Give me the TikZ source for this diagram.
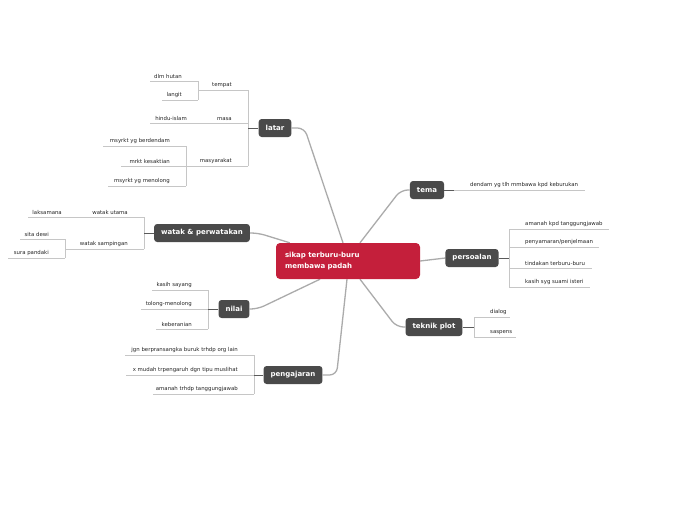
\documentclass[tikz,border=0pt]{standalone}
\usepackage{fontspec}
\newfontfamily\mapfont{DejaVu Sans}
\usetikzlibrary{positioning, calc, backgrounds}
\definecolor{map-red}{HTML}{C41F3B}
\definecolor{map-dark}{HTML}{4A4A4A}
\definecolor{map-line}{HTML}{C6C6C6}
\definecolor{map-trunk}{HTML}{ABABAB}
\definecolor{map-stem}{HTML}{5A5A5A}

% left-hand leaf: name, x from, x to, y, text
\newcommand{\lleaf}[5]{%
  \draw[twig] (#2,-#4) -- (#3,-#4);
  \node[leaf, anchor=south east] (#1) at (#3-16,-#4) {#5};
  \coordinate (#1-j) at (#3,-#4);}
% right-hand leaf: name, x from, x to, y, text
\newcommand{\rleaf}[5]{%
  \draw[twig] (#2,-#4) -- (#3,-#4);
  \node[leaf, anchor=south west] (#1) at (#2+16,-#4) {#5};
  \coordinate (#1-j) at (#2,-#4);}

\begin{document}
\begin{tikzpicture}[x=1pt, y=1pt,
    rootbox/.style={fill=map-red, rounded corners=4pt, text=white,
        font=\mapfont\bfseries\fontsize{7}{11}\selectfont,
        text width=126pt, align=left, minimum height=36pt, inner xsep=9pt},
    topic/.style={fill=map-dark, rounded corners=3pt, text=white,
        font=\mapfont\bfseries\fontsize{7}{8}\selectfont,
        minimum height=18pt, inner xsep=7pt, inner ysep=0pt},
    leaf/.style={font=\mapfont\fontsize{5.4}{6}\selectfont, text=black!85,
        inner xsep=0pt, inner ysep=2.4pt},
    twig/.style={draw=map-line, line width=0.6pt},
    stem/.style={draw=map-stem, line width=0.8pt},
    trunk/.style={draw=map-trunk, line width=1.3pt, rounded corners=7pt},
]
    \useasboundingbox (0,0) rectangle (697,-520);

    % central idea
    \node[rootbox] (root) at (348,-261) {sikap terburu-buru\\membawa padah};

    % main topics
    \node[topic] (latar) at (275,-128) {latar};
    \node[topic] (tema) at (427,-190) {tema};
    \node[topic] (watak) at (202,-233) {watak \& perwatakan};
    \node[topic] (persoalan) at (472,-258) {persoalan};
    \node[topic] (nilai) at (234,-309) {nilai};
    \node[topic] (teknik) at (434,-327) {teknik plot};
    \node[topic] (pengajaran) at (293,-375) {pengajaran};

    \begin{scope}[on background layer]
        \fill[white] (0,0) rectangle (697,-520);
        \draw[trunk] ($(root.north)+(-5,0)$) -- ($(latar.east)+(13,0)$) -- (latar.east);
        \draw[trunk] ($(root.north)+(12,0)$) -- ($(tema.west)+(-9,0)$) -- (tema.west);
        \draw[trunk] ($(root.north west)+(14,0)$) -- ($(watak.east)+(8,0)$) -- (watak.east);
        \draw[trunk] (root.east) -- (persoalan.west);
        \draw[trunk] ($(root.south)+(-28,0)$) -- ($(nilai.east)+(8,0)$) -- (nilai.east);
        \draw[trunk] ($(root.south)+(-1,0)$) -- ($(pengajaran.east)+(14,0)$) -- (pengajaran.east);
        \draw[trunk] ($(root.south)+(12,0)$) -- ($(teknik.west)+(-9,0)$) -- (teknik.west);
    \end{scope}

    % latar
    \lleaf{tempat}{198}{248}{90}{tempat}
    \lleaf{dlmhutan}{150}{198}{81}{dlm hutan}
    \lleaf{langit}{162}{198}{100}{langit}
    \lleaf{masa}{203}{248}{123}{masa}
    \lleaf{hindu}{150}{203}{123}{hindu-islam}
    \lleaf{masyarakat}{186}{248}{166}{masyarakat}
    \lleaf{berdendam}{103}{186}{146}{msyrkt yg berdendam}
    \lleaf{kesaktian}{121}{186}{166}{mrkt kesaktian}
    \lleaf{menolong}{108}{186}{186}{msyrkt yg menolong}
    \draw[twig] (tempat-j) -- (masyarakat-j);
    \draw[twig] (dlmhutan-j) -- (langit-j);
    \draw[twig] (berdendam-j) -- (menolong-j);
    \draw[stem] (latar.west) -- (latar.west -| tempat-j);

    % watak & perwatakan
    \lleaf{utama}{78}{144}{217}{watak utama}
    \lleaf{laksamana}{28}{78}{217}{laksamana}
    \lleaf{sampingan}{65}{144}{249}{watak sampingan}
    \lleaf{sita}{20}{65}{239}{sita dewi}
    \lleaf{sura}{8}{65}{258}{sura pandaki}
    \draw[twig] (utama-j) -- (sampingan-j);
    \draw[twig] (sita-j) -- (sura-j);
    \draw[stem] (watak.west) -- (watak.west -| utama-j);

    % nilai
    \lleaf{kasih}{152}{208}{290}{kasih sayang}
    \lleaf{tolong}{141}{208}{309}{tolong-menolong}
    \lleaf{berani}{156}{208}{329}{keberanian}
    \draw[twig] (kasih-j) -- (berani-j);
    \draw[stem] (nilai.west) -- (nilai.west -| kasih-j);

    % pengajaran
    \lleaf{jgn}{125}{254}{355}{jgn berpransangka buruk trhdp org lain}
    \lleaf{xmudah}{126}{254}{375}{x mudah trpengaruh dgn tipu muslihat}
    \lleaf{amanahb}{153}{254}{394}{amanah trhdp tanggungjawab}
    \draw[twig] (jgn-j) -- (amanahb-j);
    \draw[stem] (pengajaran.west) -- (pengajaran.west -| jgn-j);

    % tema
    \rleaf{dendam}{454}{585}{190}{dendam yg tlh mmbawa kpd keburukan}
    \draw[stem] (tema.east) -- (dendam-j);

    % persoalan
    \rleaf{amanaha}{509}{609}{229}{amanah kpd tanggungjawab}
    \rleaf{penyamaran}{509}{599}{247}{penyamaran/penjelmaan}
    \rleaf{tindakan}{509}{592}{268}{tindakan terburu-buru}
    \rleaf{kasihsyg}{509}{590}{287}{kasih syg suami isteri}
    \draw[twig] (amanaha-j) -- (kasihsyg-j);
    \draw[stem] (persoalan.east) -- (persoalan.east -| amanaha-j);

    % teknik plot
    \rleaf{dialog}{474}{510}{317}{dialog}
    \rleaf{saspens}{474}{516}{337}{saspens}
    \draw[twig] (dialog-j) -- (saspens-j);
    \draw[stem] (teknik.east) -- (teknik.east -| dialog-j);
\end{tikzpicture}
\end{document}
